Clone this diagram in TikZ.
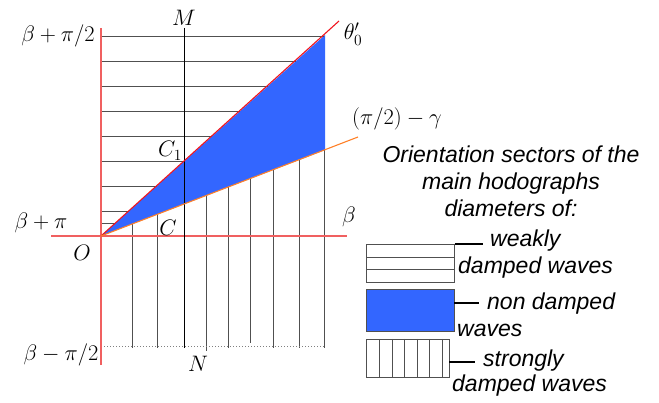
\documentclass[tikz,border=0pt]{standalone}
\usepackage{graphicx}
\usepackage{fontspec}
\newfontfamily\lsans{Liberation Sans}
\definecolor{axisred}{RGB}{240,96,96}
\definecolor{thetared}{RGB}{240,20,30}
\definecolor{gamorange}{RGB}{255,128,40}
\definecolor{sectblue}{RGB}{51,102,255}
\definecolor{hatchgray}{RGB}{80,80,80}
\newcommand{\mlbl}[1]{\scalebox{1.08}{$#1$}}
\begin{document}
\begin{tikzpicture}[x=1pt,y=-1pt,
  mlab/.style={font=\fontsize{20.74}{25}\selectfont, inner sep=0pt},
  slab/.style={font=\lsans\itshape\fontsize{23}{27}\selectfont, inner sep=0pt, anchor=west},
  axline/.style={draw=axisred, line width=1.1pt},
  hatch/.style={draw=hatchgray, line width=0.8pt},
  legbox/.style={draw=hatchgray, line width=0.8pt, rectangle, inner sep=0pt, anchor=north west},
  conn/.style={draw=black, line width=1.4pt}]
\useasboundingbox (0,0) rectangle (659,403);

% key points
\coordinate (O) at (101,236);
\coordinate (T) at (339,21);
\coordinate (G) at (358,137);
\coordinate (Bt) at (325,35);
\coordinate (Bb) at (325,150);

% blue sector
\fill[sectblue] (O) -- (Bt) -- (Bb) -- cycle;

% horizontal hatch (weakly damped)
\foreach \yy in {36,61,86,111,136,161,186,211,223}
  \draw[hatch] (101,\yy) -- ({101+(236-\yy)/201*224},\yy);

% vertical hatch (strongly damped)
\foreach \xx/\ye in {132/348,157/348,206/351,228/348,250/343,273/348,299/348,324/348}
  \draw[hatch] (\xx,{236-(\xx-101)/224*86}) -- (\xx,\ye);

% dotted base line
\draw[gray, dotted, line width=1pt] (101,347) -- (325,347);

% axes
\draw[axline] (101,28) -- (101,365);
\draw[axline] (51,236) -- (347,236);

% M-N line
\coordinate (Mt) at (184,28);
\coordinate (Nb) at (184,348);
\draw[black, line width=0.9pt] (Mt) -- (Nb);

% sector boundaries
\draw[thetared, line width=1.1pt] (O) -- (T);
\draw[gamorange, line width=1.1pt] (O) -- (G);

% labels
\node[mlab] (l1) at (58,36) {\mlbl{\beta+\pi/2}};
\node[mlab] (l2) at (41,223) {\mlbl{\beta+\pi}};
\node[mlab] (l3) at (61,355) {\mlbl{\beta-\pi/2}};
\node[mlab] (lO) at (82,253) {\mlbl{O}};
\node[mlab] (lC) at (168,228) {\mlbl{C}};
\node[mlab] (lC1) at (170,151) {\mlbl{C_1}};
\node[mlab] (lM) at (184,18) {\mlbl{M}};
\node[mlab] (lN) at (198,364) {\mlbl{N}};
\node[mlab] (lb) at (349,217) {\mlbl{\beta}};
\node[mlab] (lt) at (353,34) {\mlbl{\theta'_0}};
\node[mlab] (lg) at (397,119) {\mlbl{(\pi/2)-\gamma}};

% legend title
\node[slab, anchor=center, align=center] (title) at (511,181)
  {Orientation sectors of the\\main hodographs\\diameters of:};

% legend box 1: weakly damped
\node[legbox, minimum width=88pt, minimum height=38pt] (b1) at (366,244) {};
\draw[hatch] (366,257) -- (454,257);
\draw[hatch] (366,269) -- (454,269);
\node[slab] (w1) at (490,241) {weakly};
\node[slab] (w2) at (458,268) {damped waves};
\draw[conn] (b1.north east) -- ([xshift=-7pt]b1.north east -| w1.west);

% legend box 2: non damped
\node[legbox, fill=sectblue, minimum width=88pt, minimum height=42pt] (b2) at (366,289) {};
\node[slab] (n1) at (487,304) {non damped};
\node[slab] (n2) at (457,330) {waves};
\coordinate (c2) at (454,303);
\draw[conn] (c2) -- ([xshift=-8pt]c2 -| n1.west);

% legend box 3: strongly damped
\node[legbox, minimum width=83pt, minimum height=38pt] (b3) at (366,339) {};
\foreach \xx in {379,392,404,417,429,442}
  \draw[hatch] (\xx,339) -- (\xx,377);
\node[slab] (s1) at (483,361) {strongly};
\node[slab] (s2) at (452,386) {damped waves};
\coordinate (c3) at (449,362);
\draw[conn] (c3) -- ([xshift=-8pt]c3 -| s1.west);
\end{tikzpicture}
\end{document}
